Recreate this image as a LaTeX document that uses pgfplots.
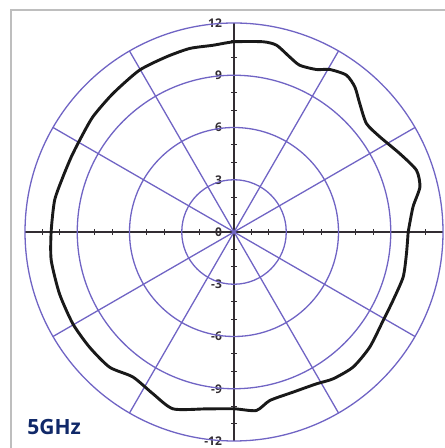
\documentclass[border=0pt]{standalone}
\usepackage{pgfplots}
\pgfplotsset{compat=1.18}
\usepackage{fontspec}
\setmainfont{Open Sans}

\definecolor{gridc}{RGB}{112,100,196}
\definecolor{axc}{RGB}{50,45,50}
\definecolor{navy}{RGB}{16,40,104}
\definecolor{framec}{RGB}{190,190,190}

% measured radiation pattern, angle (deg) vs radius (axis units)
\pgfplotstableread{
ang r
0 10.0
8 10.38
13.6 10.98
18.7 11.06
25.3 10.53
33.1 10.0
39.3 9.83
45.6 10.32
50.2 10.84
54.4 11.08
59.5 10.83
63.1 10.46
68.5 10.29
72.4 10.55
77.2 11.0
81.3 11.05
90 10.92
96.4 10.79
103.6 10.84
111.1 10.78
120.3 10.76
131.2 10.56
140.8 10.46
149.3 10.31
155.2 10.29
162.2 10.32
170 10.46
180 10.5
188.8 10.62
199.5 10.63
209.7 10.65
218.6 10.61
227.4 10.55
235.1 10.15
243.4 10.39
251 10.74
261.1 10.28
270 10.15
277.1 10.33
282 9.89
290.2 9.80
298.5 9.92
304 10.17
311.4 10.34
319.7 10.22
329.3 9.96
336.7 9.94
345.1 10.05
352.8 9.98
360 10.0
}\pattern

\begin{document}
\begin{tikzpicture}
\useasboundingbox (0pt,0pt) rectangle (222pt,224pt);
\draw[framec, line width=1pt] (5.5pt,-5pt) -- (5.5pt,219pt) -- (230pt,219pt);
\begin{axis}[
    at={(117pt,108pt)}, anchor=center,
    scale only axis, width=209pt, height=209pt,
    xmin=-12, xmax=12, ymin=-12, ymax=12,
    clip=false,
    axis lines=center,
    axis line style={-, axc, line width=0.55pt},
    every tick/.style={axc, line width=0.55pt},
    major tick length=3pt, tick align=center,
    xtick={-11,-10,-8,-7,-5,-4,-2,-1,1,2,4,5,7,8,10,11},
    ytick={-11,-10,-8,-7,-5,-4,-2,-1,1,2,4,5,7,8,10,11},
    xticklabels={}, yticklabels={},
    hide obscured y ticks=false,
    extra y ticks={-12,-9,-6,-3,0,3,6,9,12},
    extra y tick labels={-12,-9,-6,-3,0,3,6,9,12},
    extra y tick style={major tick length=0pt,
        yticklabel style={anchor=east, xshift=-2.5pt, text=axc,
        font=\fontsize{6}{6}\selectfont\bfseries}},
]
% polar grid
\draw[gridc, line width=0.65pt] (axis cs:0,0) circle[radius=3];
\draw[gridc, line width=0.65pt] (axis cs:0,0) circle[radius=6];
\draw[gridc, line width=0.65pt] (axis cs:0,0) circle[radius=9];
\draw[gridc, line width=0.65pt] (axis cs:0,0) circle[radius=12];
\draw[gridc, line width=0.65pt] (axis cs:-10.392,-6) -- (axis cs:10.392,6);
\draw[gridc, line width=0.65pt] (axis cs:-6,-10.392) -- (axis cs:6,10.392);
\draw[gridc, line width=0.65pt] (axis cs:-10.392,6) -- (axis cs:10.392,-6);
\draw[gridc, line width=0.65pt] (axis cs:-6,10.392) -- (axis cs:6,-10.392);

\addplot[black!90, line width=1.45pt, line join=round, smooth, tension=0.4,
    data cs=polar] table[x=ang, y=r] {\pattern};
\end{axis}
\node[anchor=base west, inner sep=0, text=navy,
      font=\fontsize{10.5}{12}\selectfont\bfseries] at (13.5pt,6.5pt) {5GHz};
\end{tikzpicture}
\end{document}
